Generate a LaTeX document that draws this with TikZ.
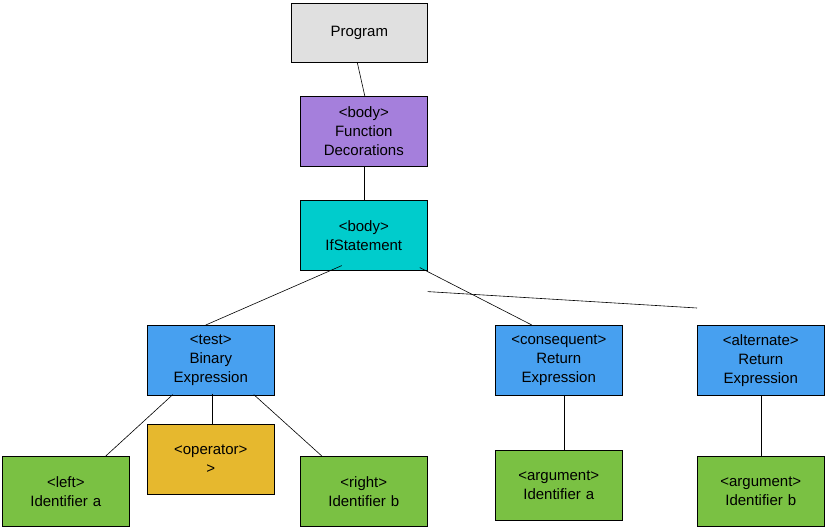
\documentclass[tikz,border=0pt]{standalone}
\usepackage{fontspec}
\setmainfont{Liberation Sans}
\begin{document}
\begin{tikzpicture}[x=1pt,y=-1pt,
  bx/.style={draw=black,line width=0.6pt,minimum width=127pt,minimum height=70pt,inner sep=0pt,align=center,font=\fontsize{15}{19}\selectfont,anchor=north west,text width=125pt},
  ln/.style={draw=black,line width=0.6pt}]
\useasboundingbox (0,0) rectangle (827,529);
\definecolor{cgray}{HTML}{E0E0E0}
\definecolor{cpur}{HTML}{A57FDC}
\definecolor{ccyan}{HTML}{00CCCC}
\definecolor{cblue}{HTML}{47A0F0}
\definecolor{cgreen}{HTML}{7AC143}
\definecolor{cyel}{HTML}{E6B82E}
\node[bx,fill=cgray,minimum width=136pt,minimum height=59pt] (prog) at (291,3) {Program};
\node[bx,fill=cpur] (dec) at (300,96) {<body>\\Function\\Decorations};
\node[bx,fill=ccyan] (if) at (300,200) {<body>\\IfStatement};
\node[bx,fill=cblue] (bin) at (147,325) {<test>\\Binary\\Expression};
\node[bx,fill=cblue] (con) at (495,325) {<consequent>\\Return\\Expression};
\node[bx,fill=cblue] (alt) at (697,325) {<alternate>\\Return\\Expression};
\node[bx,fill=cgreen] (left) at (2,456) {<left>\\Identifier a};
\node[bx,fill=cyel] (op) at (147,424) {<operator>\\>};
\node[bx,fill=cgreen] (right) at (300,456) {<right>\\Identifier b};
\node[bx,fill=cgreen] (arga) at (495,450) {<argument>\\Identifier a};
\node[bx,fill=cgreen] (argb) at (697,456) {<argument>\\Identifier b};
\draw[ln] ([xshift=-2pt]prog.south) -- ([xshift=1pt]dec.north);
\draw[ln] (dec.south) -- (if.north);
\draw[ln] ([xshift=-22pt,yshift=5pt]if.south) -- ([xshift=-5pt]bin.north);
\draw[ln] ([xshift=56pt,yshift=3pt]if.south) -- ([xshift=-27pt]con.north);
\draw[ln] ([yshift=-21pt]if.south east) -- ([yshift=17pt]alt.north west);
\draw[ln] ([xshift=-38pt,yshift=1pt]bin.south) -- ([xshift=40pt]left.north);
\draw[ln] ([xshift=1pt,yshift=2pt]bin.south) -- ([xshift=1pt]op.north);
\draw[ln] ([xshift=43pt,yshift=1pt]bin.south) -- ([xshift=-42pt]right.north);
\draw[ln] ([xshift=5pt]con.south) -- ([xshift=5pt]arga.north);
\draw[ln] (alt.south) -- (argb.north);
\end{tikzpicture}
\end{document}
